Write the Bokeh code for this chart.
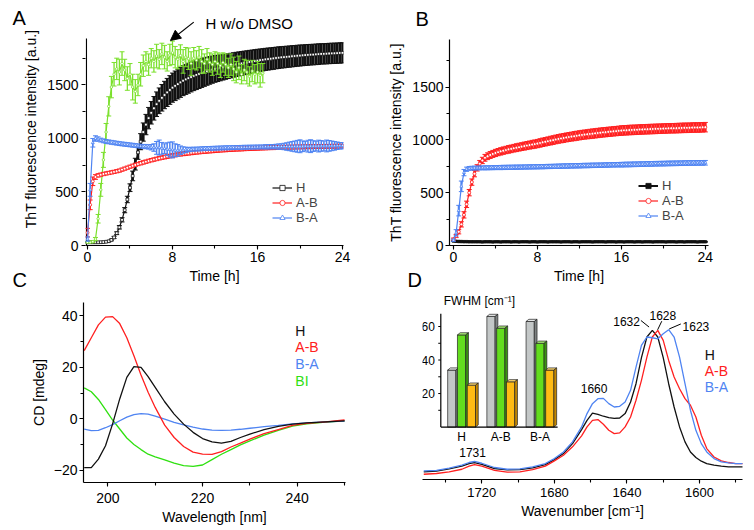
from bokeh.plotting import figure
from bokeh.layouts import column, row
from bokeh.models import (Range1d, SingleIntervalTicker, FixedTicker, Label, Legend, LegendItem,
                          Arrow, NormalHead, ColumnDataSource)
from bokeh.core.properties import value
from bokeh.embed import file_html
from bokeh.resources import INLINE

FONT = "Liberation Sans"

# ---------------- Panel A / B : ThT kinetics ----------------
TIME_H = [
    0, 0.25, 0.5, 0.75, 1, 1.25, 1.5, 1.75,
    2, 2.25, 2.5, 2.75, 3, 3.25, 3.5, 3.75,
    4, 4.25, 4.5, 4.75, 5, 5.25, 5.5, 5.75,
    6, 6.25, 6.5, 6.75, 7, 7.25, 7.5, 7.75,
    8, 8.25, 8.5, 8.75, 9, 9.25, 9.5, 9.75,
    10, 10.25, 10.5, 10.75, 11, 11.25, 11.5, 11.75,
    12, 12.25, 12.5, 12.75, 13, 13.25, 13.5, 13.75,
    14, 14.25, 14.5, 14.75, 15, 15.25, 15.5, 15.75,
    16, 16.25, 16.5, 16.75, 17, 17.25, 17.5, 17.75,
    18, 18.25, 18.5, 18.75, 19, 19.25, 19.5, 19.75,
    20, 20.25, 20.5, 20.75, 21, 21.25, 21.5, 21.75,
    22, 22.25, 22.5, 22.75, 23, 23.25, 23.5, 23.75,
    24]

A_H = [
    30, 30, 30, 30, 30, 31, 32, 35,
    40, 52, 75, 115, 170, 240, 330, 430,
    540, 650, 760, 870, 970, 1060, 1130, 1190,
    1240, 1282, 1320, 1352, 1380, 1406, 1430, 1453,
    1475, 1492, 1508, 1524, 1540, 1552, 1563, 1574,
    1585, 1594, 1603, 1612, 1620, 1628, 1636, 1643,
    1650, 1655, 1660, 1665, 1670, 1676, 1681, 1687,
    1692, 1697, 1701, 1706, 1710, 1715, 1719, 1724,
    1728, 1732, 1735, 1739, 1742, 1745, 1748, 1752,
    1755, 1758, 1760, 1763, 1765, 1768, 1770, 1773,
    1775, 1777, 1779, 1781, 1783, 1784, 1786, 1788,
    1790, 1791, 1792, 1794, 1795, 1796, 1797, 1799,
    1800]
A_H_ERR = [
    5, 5, 5, 5, 5, 5, 6, 6,
    7, 8, 10, 13, 16, 20, 24, 30,
    36, 45, 55, 65, 75, 85, 95, 100,
    105, 110, 115, 120, 124, 128, 131, 134,
    136, 138, 139, 140, 140, 140, 140, 139,
    138, 137, 136, 135, 133, 131, 129, 127,
    125, 123, 121, 119, 117, 116, 115, 114,
    113, 112, 111, 110, 109, 108, 107, 106,
    105, 104, 104, 103, 103, 102, 102, 101,
    101, 100, 100, 99, 99, 99, 98, 98,
    98, 97, 97, 97, 96, 96, 96, 96,
    95, 95, 95, 95, 95, 95, 95, 95,
    95]

A_AB = [
    120, 380, 600, 640, 655, 662, 668, 673,
    678, 683, 688, 694, 700, 709, 718, 727,
    736, 745, 753, 761, 769, 776, 783, 790,
    797, 803, 809, 815, 821, 826, 831, 836,
    841, 845, 849, 853, 857, 860, 863, 866,
    869, 872, 874, 877, 879, 881, 883, 885,
    887, 889, 891, 893, 894, 896, 897, 899,
    900, 901, 902, 904, 905, 906, 907, 908,
    909, 910, 911, 912, 913, 914, 914, 915,
    916, 917, 917, 918, 919, 919, 920, 921,
    921, 922, 922, 923, 923, 924, 924, 925,
    925, 926, 926, 926, 927, 927, 928, 928,
    928]
A_AB_ERR = [
    40, 45, 40, 22, 16, 15, 15, 15,
    15, 15, 15, 15, 15, 15, 15, 15,
    15, 15, 15, 15, 16, 16, 16, 16,
    16, 16, 16, 16, 17, 17, 17, 17,
    17, 17, 17, 17, 18, 18, 18, 18,
    18, 18, 18, 18, 18, 18, 18, 18,
    18, 18, 18, 18, 18, 18, 18, 18,
    18, 18, 18, 18, 18, 18, 18, 18,
    18, 18, 18, 18, 18, 18, 18, 18,
    18, 18, 18, 18, 18, 18, 18, 18,
    18, 18, 18, 18, 18, 18, 18, 18,
    18, 18, 18, 18, 18, 18, 18, 18,
    18]

A_BA = [
    60, 520, 960, 1000, 995, 985, 978, 972,
    968, 964, 960, 956, 952, 949, 946, 943,
    940, 937, 934, 931, 928, 926, 924, 921,
    918, 915, 912, 915, 908, 905, 900, 896,
    893, 890, 888, 890, 892, 894, 896, 898,
    900, 901, 902, 904, 905, 906, 907, 908,
    909, 910, 911, 912, 913, 913, 914, 915,
    916, 916, 917, 918, 918, 919, 919, 920,
    920, 921, 921, 922, 922, 923, 923, 924,
    924, 925, 925, 925, 926, 926, 926, 927,
    927, 927, 928, 928, 928, 929, 929, 929,
    930, 930, 930, 931, 931, 931, 932, 932,
    932]
A_BA_ERR = [
    20, 60, 40, 25, 20, 18, 18, 18,
    18, 18, 18, 18, 18, 18, 18, 18,
    18, 18, 18, 18, 18, 18, 20, 20,
    25, 35, 60, 70, 55, 45, 60, 70,
    75, 60, 55, 40, 30, 25, 20, 20,
    18, 18, 18, 18, 18, 18, 18, 18,
    18, 18, 18, 18, 18, 18, 18, 18,
    18, 18, 18, 18, 18, 18, 18, 18,
    18, 18, 18, 20, 20, 20, 20, 22,
    25, 25, 30, 35, 40, 45, 50, 55,
    60, 50, 45, 55, 60, 50, 45, 55,
    50, 45, 55, 50, 45, 40, 35, 30,
    30]

# H without DMSO (measured up to 16.5 h)
A_H_NODMSO = [
    30, 30, 35, 60, 250, 520, 800, 1060,
    1300, 1480, 1600, 1650, 1620, 1700, 1640, 1560,
    1600, 1480, 1440, 1500, 1600, 1680, 1720, 1690,
    1750, 1720, 1770, 1740, 1790, 1760, 1720, 1780,
    1800, 1760, 1740, 1775, 1720, 1760, 1745, 1700,
    1750, 1730, 1760, 1720, 1700, 1740, 1710, 1690,
    1720, 1700, 1680, 1710, 1690, 1660, 1690, 1650,
    1620, 1660, 1600, 1640, 1620, 1580, 1630, 1600,
    1620, 1590, 1610]
A_H_NODMSO_ERR = [
    5, 5, 8, 15, 40, 60, 70, 80,
    90, 100, 110, 100, 120, 110, 100, 110,
    100, 120, 110, 100, 110, 100, 90, 100,
    90, 100, 110, 90, 100, 110, 90, 100,
    110, 100, 90, 100, 110, 90, 100, 110,
    100, 90, 100, 110, 90, 100, 90, 100,
    90, 100, 110, 90, 100, 90, 100, 110,
    100, 110, 90, 100, 110, 90, 100, 90,
    100, 110, 90]

B_H = [
    42, 40, 38, 37, 36, 36, 35, 35,
    35, 35, 35, 34, 35, 35, 35, 34,
    35, 35, 34, 35, 35, 35, 34, 35,
    35, 34, 35, 35, 35, 34, 35, 35,
    34, 35, 35, 35, 34, 35, 35, 35,
    35, 34, 35, 35, 35, 34, 35, 35,
    34, 35, 35, 35, 35, 34, 35, 35,
    35, 35, 34, 35, 35, 35, 34, 35,
    35, 34, 35, 35, 35, 34, 35, 35,
    34, 35, 35, 35, 34, 35, 35, 35,
    35, 34, 35, 35, 35, 34, 35, 35,
    34, 35, 35, 35, 35, 34, 35, 35,
    35]
B_H_ERR = [
    4, 4, 4, 4, 4, 4, 4, 4,
    4, 4, 4, 4, 4, 4, 4, 4,
    4, 4, 4, 4, 4, 4, 4, 4,
    4, 4, 4, 4, 4, 4, 4, 4,
    4, 4, 4, 4, 4, 4, 4, 4,
    4, 4, 4, 4, 4, 4, 4, 4,
    4, 4, 4, 4, 4, 4, 4, 4,
    4, 4, 4, 4, 4, 4, 4, 4,
    4, 4, 4, 4, 4, 4, 4, 4,
    4, 4, 4, 4, 4, 4, 4, 4,
    4, 4, 4, 4, 4, 4, 4, 4,
    4, 4, 4, 4, 4, 4, 4, 4,
    4]

B_AB = [
    60, 90, 130, 200, 290, 390, 500, 600,
    680, 735, 775, 805, 830, 845, 857, 867,
    876, 884, 891, 898, 904, 910, 915, 921,
    926, 931, 936, 941, 946, 951, 956, 960,
    965, 971, 977, 982, 988, 993, 998, 1004,
    1009, 1014, 1018, 1023, 1027, 1031, 1035, 1039,
    1043, 1047, 1050, 1053, 1056, 1059, 1062, 1065,
    1068, 1071, 1073, 1076, 1078, 1081, 1083, 1086,
    1088, 1090, 1091, 1093, 1094, 1095, 1096, 1098,
    1099, 1100, 1101, 1102, 1103, 1104, 1105, 1106,
    1107, 1108, 1109, 1110, 1110, 1111, 1112, 1113,
    1114, 1114, 1115, 1116, 1117, 1117, 1118, 1119,
    1120]
B_AB_ERR = [
    10, 15, 20, 25, 30, 30, 30, 30,
    30, 30, 30, 30, 32, 32, 33, 33,
    34, 34, 35, 35, 35, 36, 36, 36,
    37, 37, 37, 38, 38, 38, 39, 39,
    39, 40, 40, 40, 40, 41, 41, 41,
    41, 42, 42, 42, 42, 42, 43, 43,
    43, 43, 43, 43, 44, 44, 44, 44,
    44, 44, 44, 44, 44, 44, 44, 44,
    45, 45, 45, 45, 45, 45, 45, 45,
    45, 45, 45, 45, 45, 45, 45, 45,
    45, 45, 45, 45, 45, 45, 45, 45,
    45, 45, 45, 45, 45, 45, 45, 45,
    45]

B_BA = [
    50, 120, 330, 560, 690, 722, 730, 732,
    733, 734, 734, 735, 735, 736, 736, 737,
    737, 738, 738, 739, 739, 740, 740, 741,
    741, 742, 742, 743, 743, 744, 744, 745,
    745, 746, 746, 747, 748, 748, 749, 750,
    750, 751, 752, 752, 753, 754, 754, 755,
    755, 756, 757, 757, 758, 759, 759, 760,
    760, 761, 762, 762, 763, 764, 764, 765,
    765, 766, 767, 767, 768, 769, 769, 770,
    770, 771, 772, 772, 773, 774, 774, 775,
    775, 776, 777, 777, 778, 778, 779, 779,
    780, 780, 781, 781, 781, 782, 782, 782,
    783]
B_BA_ERR = [
    10, 30, 50, 50, 30, 20, 18, 18,
    18, 18, 18, 18, 19, 19, 19, 19,
    19, 19, 20, 20, 20, 20, 20, 20,
    20, 20, 20, 20, 20, 20, 20, 20,
    20, 20, 20, 20, 20, 20, 20, 20,
    21, 21, 21, 21, 21, 21, 21, 21,
    21, 21, 21, 21, 21, 21, 21, 21,
    21, 21, 21, 21, 21, 21, 21, 21,
    22, 22, 22, 22, 22, 22, 22, 22,
    22, 22, 22, 22, 22, 22, 22, 22,
    22, 22, 22, 22, 22, 22, 22, 22,
    22, 22, 22, 22, 22, 22, 22, 22,
    22]

THT_TICKS = [0, 500, 1000, 1500]
THT_MINOR_TICKS = [250, 750, 1250, 1750]

# ---------------- Panel C : CD spectra ----------------
WAVELENGTH_NM = [195, 196.5, 198, 199.5, 201, 202.5, 204, 205.5, 207, 208.5,
                 210, 212, 214, 216, 218, 220, 222, 224, 226, 228,
                 230, 233, 236, 239, 242, 246, 250]
CD_H = [-19, -19, -15.7, -10.5, -2, 7.7, 16.1, 20.3, 20, 16.4,
        12.2, 6.6, 1.8, -2.1, -5.3, -7.7, -9, -9.5, -8.8, -7.3,
        -6, -4.2, -3, -2.1, -1.6, -1.2, -0.8]
CD_AB = [26.5, 31.5, 36.5, 39.5, 39.7, 37, 31.5, 24.5, 17, 10.3,
         4.4, -2.5, -7.3, -10.8, -13, -13.8, -13.9, -12.8, -11, -9.5,
         -7.9, -5.8, -4.2, -2.6, -1.8, -1.2, -0.5]
CD_BA = [-4, -4.6, -4.5, -3.5, -2.3, -0.8, 0.6, 1.6, 2.0, 1.8,
         1.0, -0.2, -1.4, -2.4, -3.3, -4.0, -4.4, -4.5, -4.4, -4.1,
         -3.7, -3.1, -2.6, -2.0, -1.6, -1.2, -0.9]
CD_BI = [12, 10.5, 7.5, 3.5, -0.5, -4, -7.5, -10, -12, -13.8,
         -14.8, -16, -17.3, -18.2, -18.5, -18, -15.9, -13.8, -12, -10.2,
         -8.6, -6.4, -4.5, -2.9, -2.0, -1.3, -0.8]
CD_LABELS = ["H", "A-B", "B-A", "BI"]

# ---------------- Panel D : FTIR amide I ----------------
WAVENUMBER = [1752, 1745, 1738, 1731, 1727, 1724, 1720, 1713, 1706, 1699,
              1692, 1685, 1680, 1675, 1670, 1665, 1662, 1659, 1656, 1653,
              1650, 1647, 1644, 1641, 1638, 1635, 1632, 1629, 1626, 1623,
              1620, 1617, 1614, 1611, 1608, 1605, 1602, 1599, 1596, 1592,
              1588, 1584, 1580, 1576]
IR_H = [3.4, 3.9, 5.5, 7.3, 9.1, 9.8, 8.6, 5.7, 4.8, 5.0,
        6.1, 8.4, 11.8, 15.9, 22.7, 32.3, 38.6, 43.6, 42.7, 41.4,
        40.5, 40.0, 40.2, 43.2, 51.1, 63.6, 81.4, 95.5, 100.0, 95.5,
        81.4, 63.6, 47.7, 34.1, 23.9, 17.0, 13.2, 10.7, 9.1, 8.0,
        7.3, 6.8, 6.8, 6.8]
IR_AB = [1.8, 2.3, 3.4, 5.2, 7.3, 8.4, 7.3, 4.5, 3.2, 3.4,
         5.0, 7.3, 10.9, 14.8, 20.5, 28.0, 34.1, 38.6, 39.1, 35.9,
         31.8, 29.5, 30.0, 34.1, 40.9, 52.3, 65.9, 81.8, 95.5, 100.0,
         93.2, 79.5, 68.2, 60.2, 53.4, 48.9, 40.9, 28.4, 19.3, 13.6,
         10.9, 9.8, 9.1, 9.1]
IR_BA = [4.1, 4.5, 5.9, 8.0, 9.8, 10.5, 9.3, 6.4, 5.2, 5.5,
         6.8, 9.1, 12.5, 17.0, 23.9, 34.1, 43.2, 50.0, 53.4, 53.6,
         50.0, 47.7, 48.2, 51.1, 59.1, 75.0, 89.8, 95.5, 95.0, 94.3,
         97.7, 100.5, 95.5, 81.8, 63.6, 45.5, 31.8, 22.7, 17.0, 12.5,
         10.2, 9.5, 9.1, 9.1]
IR_LABELS = ["H", "A-B", "B-A"]
PEAK_LABELS = ["1731", "1660", "1632", "1628", "1623"]

# inset: FWHM of band components
FWHM_GROUPS = ["H", "A-B", "B-A"]
FWHM_GREY = [34, 66, 63]
FWHM_GREEN = [55, 59, 50]
FWHM_ORANGE = [25, 27, 34]
FWHM_TICKS = [10, 20, 30, 40, 50, 60]
FWHM_TICK_LABELS = [20, 40, 60]

BLACK = "#111111"
RED = "#ff2020"
BLUE = "#4f84f2"
GREEN_A = "#7be02c"
GREEN_C = "#2fe010"


def base_style(p):
    p.outline_line_color = None
    p.xgrid.visible = False
    p.ygrid.visible = False
    p.background_fill_color = "white"
    p.border_fill_color = "white"
    p.frame_align = False


def style_axis(ax, ticker, label_size="14px", standoff=2, title_standoff=4):
    ax.ticker = ticker
    ax.axis_line_width = 1.2
    ax.axis_line_color = "black"
    ax.major_tick_line_width = 1.1
    ax.minor_tick_line_width = 1.1
    ax.major_tick_line_color = "black"
    ax.minor_tick_line_color = "black"
    ax.major_tick_in = 0
    ax.major_tick_out = 4
    ax.minor_tick_in = 0
    ax.minor_tick_out = 3
    ax.major_label_text_font = FONT
    ax.major_label_text_font_size = label_size
    ax.major_label_text_color = "black"
    ax.major_label_standoff = standoff
    ax.axis_label_text_font = FONT
    ax.axis_label_text_font_size = "14px"
    ax.axis_label_text_font_style = "normal"
    ax.axis_label_text_color = "black"
    ax.axis_label_standoff = title_standoff


def kinetic(p, t, y, err, color, marker, msize=3.0, bar_w=1.0, lw=1.2, mfill="white"):
    src = ColumnDataSource(dict(t=list(t), y=y,
                                lo=[a - b for a, b in zip(y, err)],
                                hi=[a + b for a, b in zip(y, err)]))
    p.segment(x0="t", y0="lo", x1="t", y1="hi", source=src, line_color=color, line_width=bar_w)
    p.scatter(x="t", y="lo", marker="dash", size=5, line_color=color, line_width=1, source=src)
    p.scatter(x="t", y="hi", marker="dash", size=5, line_color=color, line_width=1, source=src)
    ln = p.line(x="t", y="y", source=src, line_color=color, line_width=lw)
    mk = p.scatter(x="t", y="y", marker=marker, size=msize, fill_color=mfill,
                   line_color=color, line_width=0.8, source=src)
    return [ln, mk]


def make_legend(items, loc):
    return Legend(items=items, location=loc, glyph_width=20, glyph_height=13,
                  label_height=13, spacing=0, padding=0, margin=0,
                  border_line_color=None, background_fill_alpha=0,
                  label_text_font=FONT, label_text_font_size="13px", label_standoff=4)


def letter(p, text, x, y, side):
    p.add_layout(Label(x=x, y=y, x_units="canvas", y_units="canvas", text=text,
                       text_font=FONT, text_font_size="20px", text_color="black",
                       text_baseline="middle", text_align="left"), side)


# ---------------- Panel A ----------------
pA = figure(width=385, height=292, x_range=Range1d(-0.188, 24.094), y_range=Range1d(0, 2177),
            min_border_left=85, min_border_right=42, min_border_top=12, min_border_bottom=47,
            output_backend="svg", toolbar_location=None)
base_style(pA)
style_axis(pA.xaxis[0], SingleIntervalTicker(interval=8, num_minor_ticks=2), standoff=2, title_standoff=3)
style_axis(pA.yaxis[0], FixedTicker(ticks=THT_TICKS, minor_ticks=THT_MINOR_TICKS), standoff=3, title_standoff=5)
pA.yaxis[0].axis_line_color = None
pA.xaxis.axis_label = "Time [h]"
pA.yaxis.axis_label = "ThT fluorescence intensity [a.u.]"
# y-axis spine up to the top of the value scale
pA.segment(x0=[-0.1], y0=[0], x1=[-0.1], y1=[1934], line_color="black", line_width=1.2)

rA_H = kinetic(pA, TIME_H, A_H, A_H_ERR, BLACK, "square", msize=2.8, bar_w=2.6)
kinetic(pA, TIME_H[:len(A_H_NODMSO)], A_H_NODMSO, A_H_NODMSO_ERR, GREEN_A, "circle", msize=2.5, bar_w=1.3)
rA_AB = kinetic(pA, TIME_H, A_AB, A_AB_ERR, RED, "circle", bar_w=1.5)
rA_BA = kinetic(pA, TIME_H, A_BA, A_BA_ERR, BLUE, "triangle", bar_w=1.5)
pA.add_layout(make_legend([LegendItem(label="H", renderers=rA_H),
                           LegendItem(label="A-B", renderers=rA_AB),
                           LegendItem(label="B-A", renderers=rA_BA)], (187, 20)))
pA.add_layout(Label(x=11.1, y=2071, text="H w/o DMSO", text_font=FONT, text_font_size="15px",
                    text_color="black", text_baseline="alphabetic"))
pA.add_layout(Arrow(end=NormalHead(size=10, fill_color="black", line_color="black"),
                    x_start=10.0, y_start=2087, x_end=7.81, y_end=1916,
                    line_color="black", line_width=1.2))
letter(pA, "A", 12, 17.5, "left")
letter(pA, "C", 12, 279, "right")

# ---------------- Panel B ----------------
pB = figure(width=369, height=292, x_range=Range1d(-0.38, 24.3), y_range=Range1d(0, 1950),
            min_border_left=63, min_border_right=46, min_border_top=39, min_border_bottom=47,
            output_backend="svg", toolbar_location=None)
base_style(pB)
style_axis(pB.xaxis[0], SingleIntervalTicker(interval=8, num_minor_ticks=2), standoff=2, title_standoff=3)
style_axis(pB.yaxis[0], SingleIntervalTicker(interval=500, num_minor_ticks=2), standoff=2, title_standoff=5)
pB.xaxis.axis_label = "Time [h]"
pB.yaxis.axis_label = "ThT fluorescence intensity [a.u.]"

rB_H = kinetic(pB, TIME_H, B_H, B_H_ERR, BLACK, "square", msize=2.5, bar_w=1.5, lw=2.0, mfill=BLACK)
rB_AB = kinetic(pB, TIME_H, B_AB, B_AB_ERR, RED, "circle", bar_w=2.6)
rB_BA = kinetic(pB, TIME_H, B_BA, B_BA_ERR, BLUE, "triangle", bar_w=2.0)
pB.add_layout(make_legend([LegendItem(label="H", renderers=rB_H),
                           LegendItem(label="A-B", renderers=rB_AB),
                           LegendItem(label="B-A", renderers=rB_BA)], (189, 22)))
letter(pB, "B", 30, 18.3, "above")
letter(pB, "D", 22, 279, "right")

# ---------------- Panel C ----------------
pC = figure(width=385, height=238, x_range=Range1d(194.85, 250.2), y_range=Range1d(-24.8, 45.2),
            min_border_left=83, min_border_right=40, min_border_top=10, min_border_bottom=48,
            output_backend="svg", toolbar_location=None)
base_style(pC)
style_axis(pC.xaxis[0], SingleIntervalTicker(interval=20, num_minor_ticks=2), standoff=6, title_standoff=3)
style_axis(pC.yaxis[0], SingleIntervalTicker(interval=20, num_minor_ticks=2), standoff=2, title_standoff=4)
pC.xaxis.axis_label = "Wavelength [nm]"
pC.yaxis.axis_label = "CD [mdeg]"
cd_colors = [BLACK, RED, BLUE, GREEN_C]
for ys, col in zip([CD_BI, CD_BA, CD_AB, CD_H], [GREEN_C, BLUE, RED, BLACK]):
    pC.line(WAVELENGTH_NM, ys, line_color=col, line_width=1.3)
for i, (lab, col) in enumerate(zip(CD_LABELS, cd_colors)):
    pC.add_layout(Label(x=239.6, y=34.3 - 6.5 * i, text=lab, text_font=FONT,
                        text_font_size="14px", text_color=col, text_baseline="middle"))

# ---------------- Panel D ----------------
pD = figure(width=369, height=238, x_range=Range1d(1752.7, 1576.3), y_range=Range1d(-1.8, 125.9),
            min_border_left=37, min_border_right=12, min_border_top=0, min_border_bottom=51,
            output_backend="svg", toolbar_location=None)
base_style(pD)
style_axis(pD.xaxis[0], SingleIntervalTicker(interval=40, num_minor_ticks=2), label_size="13px",
           standoff=4, title_standoff=3)
pD.yaxis.visible = False
pD.xaxis.axis_label = "Wavenumber [cm\u207b\u00b9]"
ir_colors = [BLACK, RED, BLUE]
for ys, col in zip([IR_H, IR_AB, IR_BA], ir_colors):
    pD.line(WAVENUMBER, ys, line_color=col, line_width=1.3)

peak_x = [1725.1, 1658.1, 1640.2, 1620.2, 1602.0]
peak_y = [16.3, 60.3, 106.3, 110.2, 102.9]
for lab, px_, py_ in zip(PEAK_LABELS, peak_x, peak_y):
    pD.add_layout(Label(x=px_, y=py_, text=lab, text_font=FONT, text_font_size="12px",
                        text_color="black", text_align="center", text_baseline="middle"))
pD.segment(x0=[1632.3, 1620.8, 1610.3], y0=[106.8, 106.3, 104.4],
           x1=[1627.8, 1623.1, 1616.7], y1=[102.3, 100.4, 101.0],
           line_color="black", line_width=1)
for i, (lab, col) in enumerate(zip(IR_LABELS, ir_colors)):
    pD.add_layout(Label(x=1597.1, y=83.0 - 10.8 * i, text=lab, text_font=FONT,
                        text_font_size="14px", text_color=col, text_baseline="middle"))

# inset bar chart (own coordinates)
pD.extra_x_ranges = {"inset": Range1d(-0.997, 7.166)}
pD.extra_y_ranges = {"inset": Range1d(-31.3, 80.3)}
BAR_W, BAR_PITCH, DX, DY = 0.21, 0.25, 0.07, 1.3
bar_sets = [(FWHM_GREY, "#c3c7c7", "#e4e6e6", "#7d8282", -1),
            (FWHM_GREEN, "#63dd1e", "#aef27a", "#3a9410", 0),
            (FWHM_ORANGE, "#ffbb14", "#ffd970", "#c48700", 1)]
for vals, front, top, side, off in bar_sets:
    xl = [g + off * BAR_PITCH - BAR_W / 2 for g in range(len(vals))]
    xr = [a + BAR_W for a in xl]
    pD.quad(left=xl, right=xr, bottom=[0] * len(vals), top=vals, fill_color=front,
            line_color="#222222", line_width=0.7, x_range_name="inset", y_range_name="inset")
    pD.patches(xs=[[a, a + DX, b + DX, b] for a, b in zip(xl, xr)],
               ys=[[v, v + DY, v + DY, v] for v in vals],
               fill_color=top, line_color="#222222", line_width=0.7,
               x_range_name="inset", y_range_name="inset")
    pD.patches(xs=[[b, b, b + DX, b + DX] for b in xr],
               ys=[[0, v, v + DY, DY] for v in vals],
               fill_color=side, line_color="#222222", line_width=0.7,
               x_range_name="inset", y_range_name="inset")
AX_X = -0.53
pD.segment(x0=[AX_X, AX_X], y0=[0, 0], x1=[AX_X, 2.45], y1=[67.6, 0], line_color="black",
           line_width=1.2, x_range_name="inset", y_range_name="inset")
pD.segment(x0=[AX_X] * len(FWHM_TICKS), y0=FWHM_TICKS, x1=[AX_X - 0.065] * len(FWHM_TICKS),
           y1=FWHM_TICKS, line_color="black", line_width=1, x_range_name="inset", y_range_name="inset")
pD.text(x=[AX_X - 0.15] * len(FWHM_TICK_LABELS), y=FWHM_TICK_LABELS,
        text=[str(v) for v in FWHM_TICK_LABELS], text_font=value(FONT), text_font_size="12px",
        text_align="right", text_baseline="middle", text_color="black",
        x_range_name="inset", y_range_name="inset")
pD.text(x=list(range(len(FWHM_GROUPS))), y=[-6] * len(FWHM_GROUPS), text=FWHM_GROUPS,
        text_font=value(FONT), text_font_size="12px", text_align="center",
        text_baseline="middle", text_color="black", x_range_name="inset", y_range_name="inset")
pD.add_layout(Label(x=-0.454, y=75.3, text="FWHM [cm\u207b\u00b9]", text_font=FONT,
                    text_font_size="12px", text_color="black", text_baseline="middle",
                    x_range_name="inset", y_range_name="inset"))

layout = column(row(pA, pB), row(pC, pD))
with open("out.html", "w") as f:
    f.write(file_html(layout, INLINE))
